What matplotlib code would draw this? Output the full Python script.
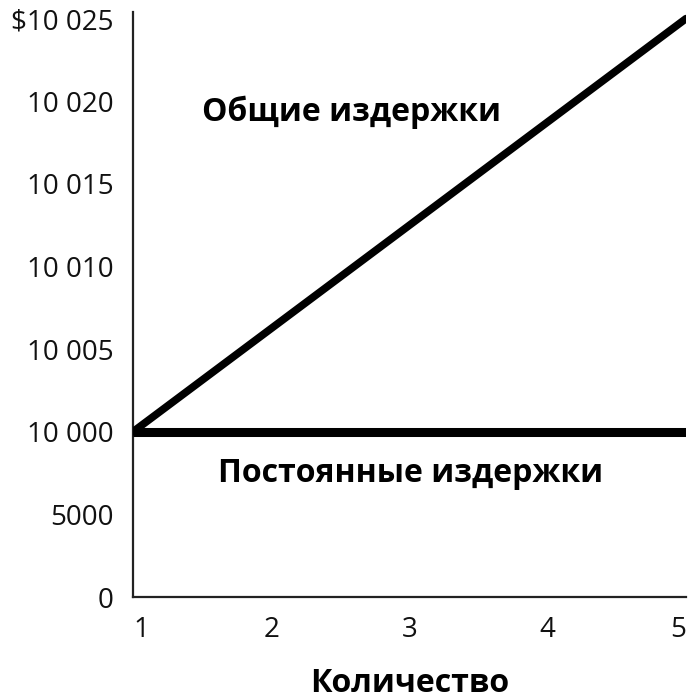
import matplotlib
matplotlib.use("Agg")
import matplotlib.pyplot as plt

# Data
quantity = [1, 5]
total_costs = [10000, 10025]
fixed_costs = [10000, 10000]
y_tick_values = [0, 5000, 10000, 10005, 10010, 10015, 10020, 10025]
y_tick_labels = ["0", "5000", "10 000", "10 005", "10 010", "10 015", "10 020", "$10 025"]
x_ticks = [1, 2, 3, 4, 5]
x_label = "Количество"
label_total = "Общие издержки"
label_fixed = "Постоянные издержки"


def to_pos(v):
    # broken axis: 0, 5000, 10000 evenly spaced, then 5-unit steps above 10000
    if v >= 10000:
        return 2 + (v - 10000) / 5.0
    return v / 5000.0


plt.rcParams['font.family'] = ['Open Sans', 'DejaVu Sans']

fig = plt.figure(figsize=(6.91, 7.0), dpi=100)
ax = fig.add_axes([133 / 691, 1 - 597 / 700, (686 - 133) / 691, (597 - 12) / 700])

ax.plot(quantity, [to_pos(v) for v in total_costs], color='black', lw=5.5,
        solid_capstyle='round', zorder=3)
ax.plot(quantity, [to_pos(v) for v in fixed_costs], color='black', lw=6.5,
        solid_capstyle='butt', zorder=3)

ax.set_xlim(1, 5)
ax.set_ylim(0, 7.08)
ax.set_yticks([to_pos(v) for v in y_tick_values])
ax.set_yticklabels(y_tick_labels)
ax.set_xticks(x_ticks)
ax.set_xticklabels([str(x) for x in x_ticks])
ax.tick_params(axis='both', length=0, labelsize=20, colors='#111111')
ax.tick_params(axis='y', pad=14)
ax.tick_params(axis='x', pad=14)
xt = ax.get_xticklabels()
xt[0].set_ha('left')
xt[-1].set_ha('right')

for s in ['top', 'right']:
    ax.spines[s].set_visible(False)
for s in ['left', 'bottom']:
    ax.spines[s].set_linewidth(1.6)
    ax.spines[s].set_color('#222222')

ax.text(2.58, 5.87, label_total, fontsize=23, fontweight='bold',
        ha='center', va='center')
ax.text(3.01, 1.50, label_fixed, fontsize=23, fontweight='bold',
        ha='center', va='center')

ax.set_xlabel(x_label, fontsize=23, fontweight='bold', labelpad=16)

fig.savefig("out.png", dpi=100)
